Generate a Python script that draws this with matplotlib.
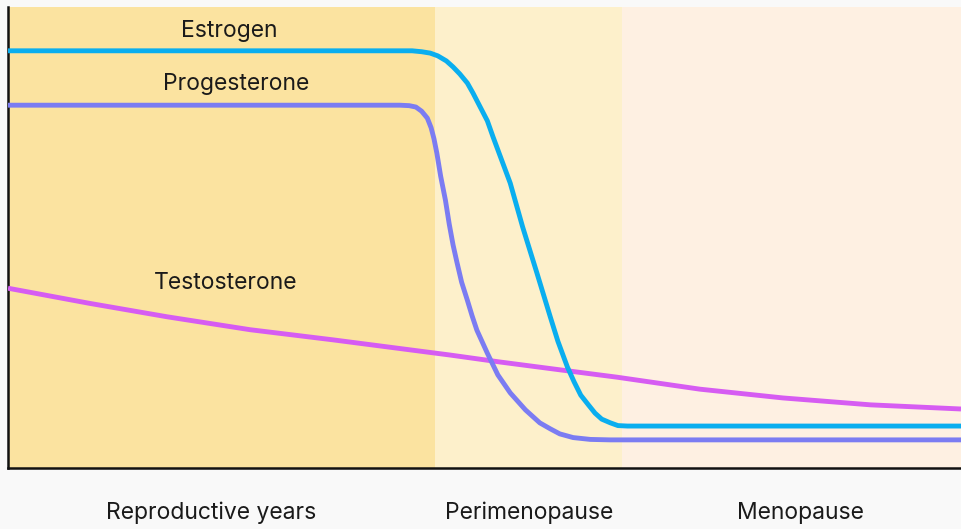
import matplotlib
matplotlib.use("Agg")
import matplotlib.pyplot as plt

plt.rcParams['font.family'] = ['Inter', 'DejaVu Sans']

# phases (x in % of timeline)
phase_names = ['Reproductive years', 'Perimenopause', 'Menopause']
phase_edges = [0, 44.8, 64.4, 100]
phase_colors = ['#FBE3A0', '#FDF0CB', '#FEF0E2']

# hormone levels (0-100 scale)
estrogen_x = [0, 42.4, 43.4, 44.3, 45.1, 46.0, 46.7, 47.4, 48.2, 48.8, 49.5, 50.3,
              50.9, 51.8, 52.7, 54.0, 55.5, 56.9, 57.7, 58.7, 59.4, 60.1, 60.9,
              61.6, 62.3, 63.2, 64.0, 65.0, 100]
estrogen_y = [90.5, 90.5, 90.3, 90.0, 89.4, 88.3, 87.0, 85.5, 83.5, 81.3, 78.5, 75.3,
              71.8, 66.8, 61.8, 52.3, 42.3, 32.8, 27.5, 21.9, 18.7, 15.8, 13.7,
              11.9, 10.6, 9.8, 9.2, 9.1, 9.1]

progesterone_x = [0, 41.1, 42.1, 42.8, 43.4, 44.0, 44.4, 44.7, 45.0, 45.4, 45.9,
                  46.3, 46.7, 47.1, 47.6, 48.2, 48.7, 49.2, 50.3, 51.4, 52.7, 54.3,
                  55.8, 56.9, 57.9, 59.3, 61.1, 63.2, 100]
progesterone_y = [78.7, 78.7, 78.6, 78.3, 77.4, 75.9, 73.8, 71.4, 68.3, 63.3, 58.1,
                  52.9, 48.4, 44.7, 40.3, 36.4, 33.0, 29.9, 24.9, 20.2, 16.3, 12.6,
                  9.8, 8.5, 7.4, 6.6, 6.2, 6.1, 6.1]

testosterone_x = [0, 8.6, 16.7, 25.4, 34.1, 46.4, 51.6, 57.9, 63.9, 72.6, 81.3, 90.5, 100]
testosterone_y = [39.0, 35.7, 32.8, 30.0, 27.8, 24.5, 23.0, 21.3, 19.7, 17.1, 15.2, 13.7, 12.8]

fig = plt.figure(figsize=(9.61, 5.29), dpi=100, facecolor='#f9f9f9')
ax = fig.add_axes([8 / 961, 61 / 529, 953 / 961, 461 / 529])

for i in range(len(phase_names)):
    ax.axvspan(phase_edges[i], phase_edges[i + 1], color=phase_colors[i], lw=0, zorder=0)

kw = dict(lw=3.5, solid_capstyle='butt', solid_joinstyle='round', zorder=3)
ax.plot(testosterone_x, testosterone_y, color='#D65CF2', **kw)
ax.plot(progesterone_x, progesterone_y, color='#7B7CF2', **kw)
ax.plot(estrogen_x, estrogen_y, color='#0AAEEF', **kw)

tkw = dict(ha='center', va='center', fontsize=16.5, color='#1a1a1a', zorder=4)
ax.text(23.2, 94.8, 'Estrogen', **tkw)
ax.text(23.9, 83.3, 'Progesterone', **tkw)
ax.text(22.8, 40.1, 'Testosterone', **tkw)

label_x = [21.3, 54.7, 83.2]
for x, name in zip(label_x, phase_names):
    ax.text(x, -9.8, name, ha='center', va='center', fontsize=16.5,
            color='#1a1a1a', clip_on=False)

ax.set_xlim(0, 100)
ax.set_ylim(0, 100)
ax.set_xticks([])
ax.set_yticks([])
for s in ['top', 'right']:
    ax.spines[s].set_visible(False)
for s in ['left', 'bottom']:
    ax.spines[s].set_linewidth(1.8)
    ax.spines[s].set_color('#111111')

fig.savefig('out.png', dpi=100, facecolor=fig.get_facecolor())
